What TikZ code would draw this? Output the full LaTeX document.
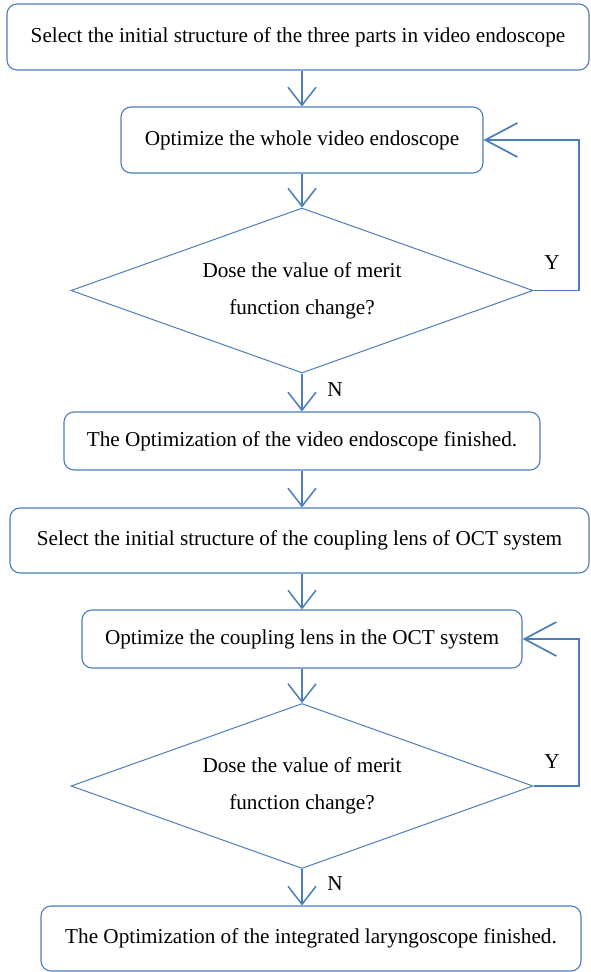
\documentclass[tikz,border=0pt]{standalone}
\usepackage{fontspec}
\setmainfont{Liberation Serif}
\usepackage{tikz}
\usetikzlibrary{arrows.meta,shapes.geometric,calc}
\definecolor{fblue}{HTML}{4A7EBB}
\tikzset{
  fbox/.style={rounded corners=5pt, draw=fblue, line width=0.55pt, align=center,
               inner sep=2pt, font=\fontsize{10.6}{13}\selectfont},
  fdec/.style={diamond, aspect=2.8, draw=fblue, line width=0.5pt, align=center,
               inner sep=0pt, minimum width=231pt, minimum height=82.5pt,
               font=\fontsize{10.6}{18.5}\selectfont},
  fflow/.style={draw=fblue, line width=0.75pt, -{Straight Barb[length=9pt,width=14pt]}},
  fback/.style={draw=fblue, line width=0.85pt, -{Straight Barb[length=16pt,width=17pt]}},
  flbl/.style={font=\fontsize{10.6}{13}\selectfont},
}

\begin{document}
\begin{tikzpicture}[x=0.5pt,y=-0.5pt]
  \useasboundingbox (0,0) rectangle (590,972);

  % video endoscope
  \node[fbox, minimum width=291pt, minimum height=33pt] (sel1) at (298,37)
        {Select the initial structure of the three parts in video endoscope};
  \node[fbox, minimum width=181pt, minimum height=33pt] (opt1) at (302,140)
        {Optimize the whole video endoscope};
  \node[fdec] (dec1) at (302,290.5) {Dose the value of merit\\function change?};
  \node[fbox, minimum width=238pt, minimum height=29pt] (fin1) at (302,441)
        {The Optimization of the video endoscope finished.};

  % coupling lens of OCT
  \node[fbox, minimum width=289.5pt, minimum height=32.5pt] (sel2) at (299.5,540.5)
        {Select the initial structure of the coupling lens of OCT system};
  \node[fbox, minimum width=220pt, minimum height=29pt] (opt2) at (302,639)
        {Optimize the coupling lens in the OCT system};
  \node[fdec] (dec2) at (302,786) {Dose the value of merit\\function change?};
  \node[fbox, minimum width=270pt, minimum height=32.5pt] (fin2) at (311,938.5)
        {The Optimization of the integrated laryngoscope finished.};

  % feedback corners
  \coordinate (back1) at (579,140);
  \coordinate (back2) at (579,639);
  \node[flbl] (yes1) at (552,263) {Y};
  \node[flbl] (yes2) at (552,762) {Y};

  \draw[fflow] (sel1.south -| opt1.north) -- (opt1.north);
  \draw[fflow] (opt1.south) -- (dec1.north);
  \draw[fflow] (dec1.south) -- node[flbl, right=9pt, pos=0.41] {N} (fin1.north);
  \draw[fback] (dec1.east) -| (back1) -- (opt1.east);

  \draw[fflow] (fin1.south) -- (fin1.south |- sel2.north);
  \draw[fflow] (sel2.south -| opt2.south) -- (opt2.north);
  \draw[fflow] (opt2.south) -- (dec2.north);
  \draw[fflow] (dec2.south) -- node[flbl, right=9pt, pos=0.41] {N} (dec2.south |- fin2.north);
  \draw[fback] (dec2.east) -| (back2) -- (opt2.east);

\end{tikzpicture}
\end{document}
